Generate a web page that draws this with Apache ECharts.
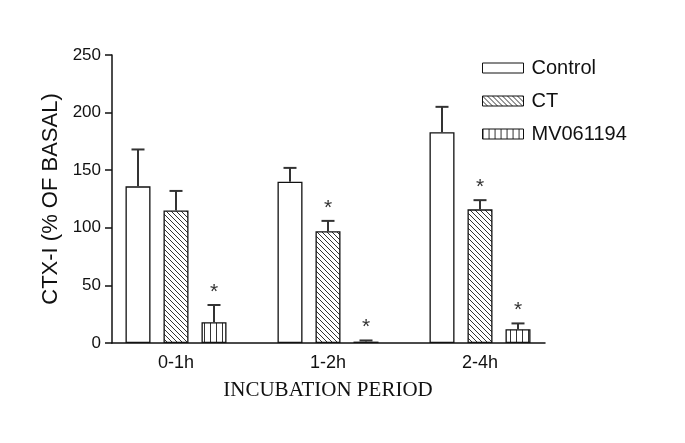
<!DOCTYPE html>
<html>
<head>
<meta charset="utf-8">
<script src="https://cdn.jsdelivr.net/npm/echarts@6/dist/echarts.min.js"></script>
<style>html,body{margin:0;padding:0;background:#fff}#c{width:685px;height:443px}</style>
</head>
<body>
<div id="c"></div>
<script>
// ---- data ----
var categories = ['0-1h', '1-2h', '2-4h'];
var seriesNames = ['Control', 'CT', 'MV061194'];
var controlVals = [136, 140, 183];
var controlErr = [32, 12, 22];
var ctVals = [115, 97, 116];
var ctErr = [17, 9, 8];
var mvVals = [18, 1.2, 12];
var mvErr = [15, 1, 5];
var controlSig = [false, false, false];
var ctSig = [false, true, true];
var mvSig = [true, true, true];
var yTicks = [0, 50, 100, 150, 200, 250];

// ---- styles ----
var FONT = 'Liberation Sans, Arial, sans-serif';
var BAR_W = 25, BAR_GAP = 13;

function makePattern(kind) {
  var s = kind === 'diag' ? 5 : 6;
  var c = document.createElement('canvas');
  c.width = s; c.height = s;
  var g = c.getContext('2d');
  g.fillStyle = '#fff'; g.fillRect(0, 0, s, s);
  g.strokeStyle = '#333'; g.lineWidth = 1;
  g.beginPath();
  if (kind === 'diag') {
    for (var k = -1; k <= 1; k++) {
      g.moveTo(k * s, 0); g.lineTo(k * s + s, s);
    }
  } else {
    g.moveTo(0.5, 0); g.lineTo(0.5, s);
  }
  g.stroke();
  return { image: c, repeat: 'repeat' };
}

var fills = ['#ffffff', makePattern('diag'), makePattern('vert')];
var valsList = [controlVals, ctVals, mvVals];
var errList = [controlErr, ctErr, mvErr];
var sigList = [controlSig, ctSig, mvSig];

var series = [];
valsList.forEach(function (vals, i) {
  series.push({
    name: seriesNames[i], type: 'bar', xAxisIndex: 0, yAxisIndex: 0,
    barWidth: BAR_W, barGap: (BAR_GAP / BAR_W * 100) + '%',
    data: vals,
    itemStyle: { color: fills[i], borderColor: '#111', borderWidth: 1.3 },
    emphasis: { disabled: true }, animation: false
  });
});
valsList.forEach(function (vals, i) {
  var offset = (i - 1) * (BAR_W + BAR_GAP);
  var data = vals.map(function (v, j) { return [j, v, v + errList[i][j], sigList[i][j] ? 1 : 0]; });
  series.push({
    type: 'custom', xAxisIndex: 0, yAxisIndex: 0, silent: true, animation: false, z: 5,
    data: data,
    renderItem: function (params, api) {
      var base = api.coord([api.value(0), api.value(1)]);
      var top = api.coord([api.value(0), api.value(2)]);
      var x = base[0] + offset;
      var children = [
        { type: 'line', shape: { x1: x, y1: base[1], x2: x, y2: top[1] }, style: { stroke: '#333', lineWidth: 2 } },
        { type: 'line', shape: { x1: x - 6.5, y1: top[1], x2: x + 6.5, y2: top[1] }, style: { stroke: '#333', lineWidth: 2 } }
      ];
      if (api.value(3)) {
        children.push({ type: 'text', style: { text: '*', x: x, y: top[1] - 13, align: 'center', verticalAlign: 'middle', fontSize: 21, fontFamily: FONT, fill: '#333' } });
      }
      return { type: 'group', children: children };
    }
  });
});

var chart = echarts.init(document.getElementById('c'), null, { renderer: 'canvas' });
chart.setOption({
  backgroundColor: '#fff',
  animation: false,
  grid: [
    { left: 100, width: 456, top: 55, height: 288 },
    { left: 112, width: 433, top: 55, height: 288 }
  ],
  legend: {
    data: seriesNames, orient: 'vertical', left: 477, top: 53,
    itemWidth: 41, itemHeight: 10, itemGap: 13, icon: 'rect',
    itemStyle: { borderColor: '#111', borderWidth: 1 },
    textStyle: { fontSize: 20, fontFamily: FONT, color: '#111', lineHeight: 20, padding: [0, 0, 0, 3] },
    selectedMode: false
  },
  xAxis: [
    {
      type: 'category', gridIndex: 0, data: categories,
      axisLine: { show: false }, axisTick: { show: false },
      axisLabel: { fontSize: 18, fontFamily: FONT, color: '#111', margin: 11 },
      name: 'INCUBATION PERIOD', nameLocation: 'middle', nameGap: 37,
      nameTextStyle: { fontSize: 21, fontFamily: 'Liberation Serif, Times New Roman, serif', color: '#111' }
    },
    {
      type: 'value', gridIndex: 1, min: 0, max: 1,
      axisLine: { show: true, lineStyle: { color: '#111', width: 1.5 } },
      axisTick: { show: false }, axisLabel: { show: false }, splitLine: { show: false }
    }
  ],
  yAxis: [
    { type: 'value', gridIndex: 0, min: 0, max: 250, show: false },
    {
      type: 'value', gridIndex: 1, min: yTicks[0], max: yTicks[yTicks.length - 1], interval: 50,
      axisLine: { show: true, lineStyle: { color: '#111', width: 1.5 } },
      axisTick: { show: true, length: 7, lineStyle: { color: '#111', width: 1.5 } },
      axisLabel: { fontSize: 17, fontFamily: FONT, color: '#111', margin: 11 },
      splitLine: { show: false },
      name: 'CTX-I (% OF BASAL)', nameLocation: 'middle', nameGap: 50, nameRotate: 90,
      nameTextStyle: { fontSize: 22, fontFamily: FONT, color: '#111' }
    }
  ],
  series: series
});
</script>
</body>
</html>
